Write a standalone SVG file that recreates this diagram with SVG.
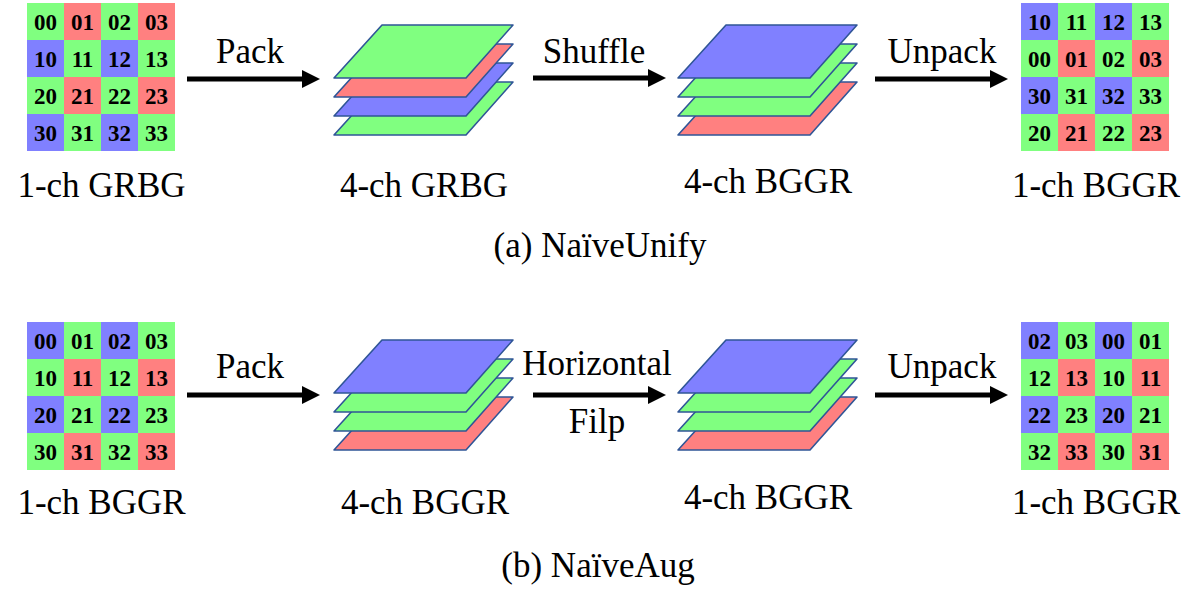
<svg xmlns="http://www.w3.org/2000/svg" width="1196" height="605" viewBox="0 0 1196 605" font-family="'Liberation Serif', Tinos, 'Times New Roman', 'DejaVu Serif', serif">
<style>
.g{fill:#80FF80}.r{fill:#FF8080}.b{fill:#8080FF}
.pl{stroke:#2F5597;stroke-width:1.6;stroke-linejoin:round}
.n{font-family:'Liberation Serif', Tinos, 'Times New Roman', 'DejaVu Serif', serif;font-weight:bold;font-size:23px;text-anchor:middle;fill:#000}
.t{font-family:'Liberation Serif', Tinos, 'Times New Roman', 'DejaVu Serif', serif;font-size:35px;text-anchor:middle;fill:#000}
.ar{stroke:#000;stroke-width:5;fill:none}
</style>
<defs>
<marker id="ah" markerUnits="userSpaceOnUse" markerWidth="18" markerHeight="18" refX="0" refY="9" orient="auto" viewBox="0 0 18 18">
<polygon points="0,0 18,9 0,18" fill="#000"/>
</marker>
<polygon id="plane" points="48,0 179,0 132,53 0,53"/>
</defs>
<rect width="1196" height="605" fill="#fff"/>

<g id="grid-a1">
<rect class="g" x="27" y="3" width="37" height="37"/><rect class="r" x="64" y="3" width="37" height="37"/><rect class="g" x="101" y="3" width="37" height="37"/><rect class="r" x="138" y="3" width="37" height="37"/>
<rect class="b" x="27" y="40" width="37" height="37"/><rect class="g" x="64" y="40" width="37" height="37"/><rect class="b" x="101" y="40" width="37" height="37"/><rect class="g" x="138" y="40" width="37" height="37"/>
<rect class="g" x="27" y="77" width="37" height="37"/><rect class="r" x="64" y="77" width="37" height="37"/><rect class="g" x="101" y="77" width="37" height="37"/><rect class="r" x="138" y="77" width="37" height="37"/>
<rect class="b" x="27" y="114" width="37" height="37"/><rect class="g" x="64" y="114" width="37" height="37"/><rect class="b" x="101" y="114" width="37" height="37"/><rect class="g" x="138" y="114" width="37" height="37"/>
<text class="n" x="45.5" y="29.5">00</text><text class="n" x="82.5" y="29.5">01</text><text class="n" x="119.5" y="29.5">02</text><text class="n" x="156.5" y="29.5">03</text>
<text class="n" x="45.5" y="66.5">10</text><text class="n" x="82.5" y="66.5">11</text><text class="n" x="119.5" y="66.5">12</text><text class="n" x="156.5" y="66.5">13</text>
<text class="n" x="45.5" y="103.5">20</text><text class="n" x="82.5" y="103.5">21</text><text class="n" x="119.5" y="103.5">22</text><text class="n" x="156.5" y="103.5">23</text>
<text class="n" x="45.5" y="140.5">30</text><text class="n" x="82.5" y="140.5">31</text><text class="n" x="119.5" y="140.5">32</text><text class="n" x="156.5" y="140.5">33</text>
<text class="t" x="101.5" y="197">1-ch GRBG</text>
</g>

<g id="stack-a1">
<use href="#plane" class="g pl" x="334" y="82"/>
<use href="#plane" class="b pl" x="334" y="63"/>
<use href="#plane" class="r pl" x="334" y="44"/>
<use href="#plane" class="g pl" x="334" y="25"/>
<text class="t" x="424" y="197">4-ch GRBG</text>
</g>

<g id="stack-a2">
<use href="#plane" class="r pl" x="678" y="82"/>
<use href="#plane" class="g pl" x="678" y="63"/>
<use href="#plane" class="g pl" x="678" y="44"/>
<use href="#plane" class="b pl" x="678" y="25"/>
<text class="t" x="768" y="193">4-ch BGGR</text>
</g>

<g id="grid-a2">
<rect class="b" x="1021" y="3" width="37" height="37"/><rect class="g" x="1058" y="3" width="37" height="37"/><rect class="b" x="1095" y="3" width="37" height="37"/><rect class="g" x="1132" y="3" width="37" height="37"/>
<rect class="g" x="1021" y="40" width="37" height="37"/><rect class="r" x="1058" y="40" width="37" height="37"/><rect class="g" x="1095" y="40" width="37" height="37"/><rect class="r" x="1132" y="40" width="37" height="37"/>
<rect class="b" x="1021" y="77" width="37" height="37"/><rect class="g" x="1058" y="77" width="37" height="37"/><rect class="b" x="1095" y="77" width="37" height="37"/><rect class="g" x="1132" y="77" width="37" height="37"/>
<rect class="g" x="1021" y="114" width="37" height="37"/><rect class="r" x="1058" y="114" width="37" height="37"/><rect class="g" x="1095" y="114" width="37" height="37"/><rect class="r" x="1132" y="114" width="37" height="37"/>
<text class="n" x="1039.5" y="29.5">10</text><text class="n" x="1076.5" y="29.5">11</text><text class="n" x="1113.5" y="29.5">12</text><text class="n" x="1150.5" y="29.5">13</text>
<text class="n" x="1039.5" y="66.5">00</text><text class="n" x="1076.5" y="66.5">01</text><text class="n" x="1113.5" y="66.5">02</text><text class="n" x="1150.5" y="66.5">03</text>
<text class="n" x="1039.5" y="103.5">30</text><text class="n" x="1076.5" y="103.5">31</text><text class="n" x="1113.5" y="103.5">32</text><text class="n" x="1150.5" y="103.5">33</text>
<text class="n" x="1039.5" y="140.5">20</text><text class="n" x="1076.5" y="140.5">21</text><text class="n" x="1113.5" y="140.5">22</text><text class="n" x="1150.5" y="140.5">23</text>
<text class="t" x="1096" y="197">1-ch BGGR</text>
</g>

<g id="grid-b1">
<rect class="b" x="27" y="322" width="37" height="37"/><rect class="g" x="64" y="322" width="37" height="37"/><rect class="b" x="101" y="322" width="37" height="37"/><rect class="g" x="138" y="322" width="37" height="37"/>
<rect class="g" x="27" y="359" width="37" height="37"/><rect class="r" x="64" y="359" width="37" height="37"/><rect class="g" x="101" y="359" width="37" height="37"/><rect class="r" x="138" y="359" width="37" height="37"/>
<rect class="b" x="27" y="396" width="37" height="37"/><rect class="g" x="64" y="396" width="37" height="37"/><rect class="b" x="101" y="396" width="37" height="37"/><rect class="g" x="138" y="396" width="37" height="37"/>
<rect class="g" x="27" y="433" width="37" height="37"/><rect class="r" x="64" y="433" width="37" height="37"/><rect class="g" x="101" y="433" width="37" height="37"/><rect class="r" x="138" y="433" width="37" height="37"/>
<text class="n" x="45.5" y="348.5">00</text><text class="n" x="82.5" y="348.5">01</text><text class="n" x="119.5" y="348.5">02</text><text class="n" x="156.5" y="348.5">03</text>
<text class="n" x="45.5" y="385.5">10</text><text class="n" x="82.5" y="385.5">11</text><text class="n" x="119.5" y="385.5">12</text><text class="n" x="156.5" y="385.5">13</text>
<text class="n" x="45.5" y="422.5">20</text><text class="n" x="82.5" y="422.5">21</text><text class="n" x="119.5" y="422.5">22</text><text class="n" x="156.5" y="422.5">23</text>
<text class="n" x="45.5" y="459.5">30</text><text class="n" x="82.5" y="459.5">31</text><text class="n" x="119.5" y="459.5">32</text><text class="n" x="156.5" y="459.5">33</text>
<text class="t" x="101.5" y="514">1-ch BGGR</text>
</g>

<g id="stack-b1">
<use href="#plane" class="r pl" x="334" y="397"/>
<use href="#plane" class="g pl" x="334" y="378"/>
<use href="#plane" class="g pl" x="334" y="359"/>
<use href="#plane" class="b pl" x="334" y="340"/>
<text class="t" x="425" y="514">4-ch BGGR</text>
</g>

<g id="stack-b2">
<use href="#plane" class="r pl" x="678" y="397"/>
<use href="#plane" class="g pl" x="678" y="378"/>
<use href="#plane" class="g pl" x="678" y="359"/>
<use href="#plane" class="b pl" x="678" y="340"/>
<text class="t" x="768" y="509">4-ch BGGR</text>
</g>

<g id="grid-b2">
<rect class="b" x="1021" y="322" width="37" height="37"/><rect class="g" x="1058" y="322" width="37" height="37"/><rect class="b" x="1095" y="322" width="37" height="37"/><rect class="g" x="1132" y="322" width="37" height="37"/>
<rect class="g" x="1021" y="359" width="37" height="37"/><rect class="r" x="1058" y="359" width="37" height="37"/><rect class="g" x="1095" y="359" width="37" height="37"/><rect class="r" x="1132" y="359" width="37" height="37"/>
<rect class="b" x="1021" y="396" width="37" height="37"/><rect class="g" x="1058" y="396" width="37" height="37"/><rect class="b" x="1095" y="396" width="37" height="37"/><rect class="g" x="1132" y="396" width="37" height="37"/>
<rect class="g" x="1021" y="433" width="37" height="37"/><rect class="r" x="1058" y="433" width="37" height="37"/><rect class="g" x="1095" y="433" width="37" height="37"/><rect class="r" x="1132" y="433" width="37" height="37"/>
<text class="n" x="1039.5" y="348.5">02</text><text class="n" x="1076.5" y="348.5">03</text><text class="n" x="1113.5" y="348.5">00</text><text class="n" x="1150.5" y="348.5">01</text>
<text class="n" x="1039.5" y="385.5">12</text><text class="n" x="1076.5" y="385.5">13</text><text class="n" x="1113.5" y="385.5">10</text><text class="n" x="1150.5" y="385.5">11</text>
<text class="n" x="1039.5" y="422.5">22</text><text class="n" x="1076.5" y="422.5">23</text><text class="n" x="1113.5" y="422.5">20</text><text class="n" x="1150.5" y="422.5">21</text>
<text class="n" x="1039.5" y="459.5">32</text><text class="n" x="1076.5" y="459.5">33</text><text class="n" x="1113.5" y="459.5">30</text><text class="n" x="1150.5" y="459.5">31</text>
<text class="t" x="1096" y="514">1-ch BGGR</text>
</g>

<g id="connectors">
<line class="ar" x1="187" y1="79" x2="302" y2="79" marker-end="url(#ah)"/>
<line class="ar" x1="533" y1="78" x2="648" y2="78" marker-end="url(#ah)"/>
<line class="ar" x1="875" y1="79" x2="990" y2="79" marker-end="url(#ah)"/>
<line class="ar" x1="187" y1="395" x2="302" y2="395" marker-end="url(#ah)"/>
<line class="ar" x1="533" y1="395" x2="648" y2="395" marker-end="url(#ah)"/>
<line class="ar" x1="875" y1="395" x2="990" y2="395" marker-end="url(#ah)"/>
<text class="t" x="250" y="63">Pack</text>
<text class="t" x="594" y="63">Shuffle</text>
<text class="t" x="942" y="63">Unpack</text>
<text class="t" x="250" y="378">Pack</text>
<text class="t" x="597" y="375">Horizontal</text>
<text class="t" x="597" y="433">Filp</text>
<text class="t" x="942" y="378">Unpack</text>
</g>

<g id="captions">
<text class="t" x="600" y="257">(a) NaïveUnify</text>
<text class="t" x="598" y="577">(b) NaïveAug</text>
</g>
</svg>
